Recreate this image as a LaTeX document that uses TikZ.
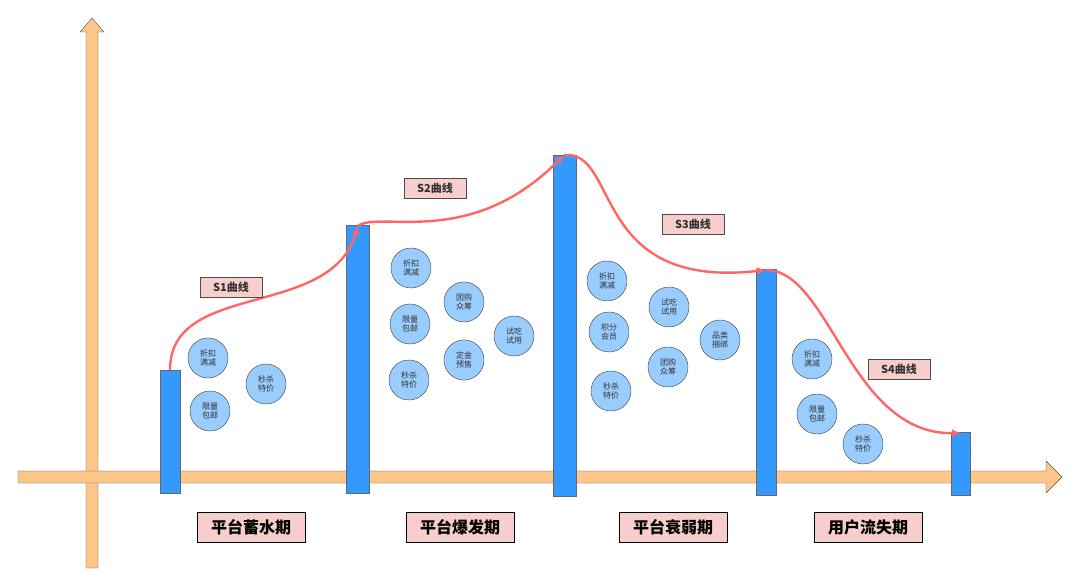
\documentclass[tikz,border=0pt]{standalone}
\usepackage{fontspec}
\newfontfamily\cjk{Noto Sans CJK SC}
\usetikzlibrary{arrows.meta,shapes.arrows}
\definecolor{axisfill}{HTML}{FFC68C}
\definecolor{barblue}{HTML}{3399FF}
\definecolor{dotblue}{HTML}{99CCFF}
\definecolor{curvered}{HTML}{FF6666}
\definecolor{tagpink}{HTML}{F8CECC}
\begin{document}
\begin{tikzpicture}[x=1pt,y=-1pt,
  bar/.style={draw=gray!80!black, fill=barblue, line width=0.8pt},
  tactic/.style={draw=black!75, fill=dotblue, circle, minimum size=40pt,
    inner sep=0pt, align=center, font=\cjk\fontsize{8}{9}\selectfont, text=black!80},
  curvetag/.style={draw=black!70, fill=tagpink, minimum width=62pt, minimum height=20pt,
    inner sep=1pt, font=\cjk\bfseries\fontsize{11}{12}\selectfont, text=black!80},
  phasetag/.style={draw=black, fill=tagpink, minimum width=108pt, minimum height=30pt,
    inner sep=1pt, font=\cjk\bfseries\fontsize{16}{18}\selectfont},
  curve/.style={draw=curvered, line width=2.4pt, -{Latex[length=9pt,width=8pt]}}
  ]
  \useasboundingbox (0,0) rectangle (1080,585);

  % axes
  \fill[axisfill, draw=black!70] (86,568) -- (86,32) -- (80,32) -- (92,18) -- (104,32)
    -- (98,32) -- (98,568) -- cycle;
  \fill[axisfill, draw=black!70] (18,471) -- (1046,471) -- (1046,461) -- (1062,477)
    -- (1046,493) -- (1046,483) -- (18,483) -- cycle;

  % bars
  \draw[bar] (160,370) rectangle (180,493);
  \draw[bar] (346,225) rectangle (369,493);
  \draw[bar] (553,155) rectangle (576,496);
  \draw[bar] (756,269) rectangle (776,495);
  \draw[bar] (951,432) rectangle (970,495);

  \coordinate (p1) at (170,370);
  \coordinate (p2) at (358,226);
  \coordinate (p3) at (564,155);
  \coordinate (p4) at (766,270);
  \coordinate (p5) at (961,433);

  % curves
  \draw[curve] (p1) .. controls (170,280) and (330,320) .. (p2);
  \draw[curve] (p2) .. controls (380,210) and (470,250) .. (p3);
  \draw[curve] (p3) .. controls (620,150) and (590,290) .. (p4);
  \draw[curve] (p4) .. controls (830,270) and (850,435) .. (p5);

  \node[curvetag] (s1) at (231,287) {S1曲线};
  \node[curvetag] (s2) at (435,188) {S2曲线};
  \node[curvetag] (s3) at (693,224) {S3曲线};
  \node[curvetag] (s4) at (899,369) {S4曲线};

  % tactics
  \node[tactic] (a1) at (208,358) {折扣\\满减};
  \node[tactic] (a2) at (210,411) {限量\\包邮};
  \node[tactic] (a3) at (266,384) {秒杀\\特价};

  \node[tactic] (b1) at (411,268) {折扣\\满减};
  \node[tactic] (b2) at (464,302) {团购\\众筹};
  \node[tactic] (b3) at (410,324) {限量\\包邮};
  \node[tactic] (b4) at (514,336) {试吃\\试用};
  \node[tactic] (b5) at (464,360) {定金\\预售};
  \node[tactic] (b6) at (409,380) {秒杀\\特价};

  \node[tactic] (c1) at (607,281) {折扣\\满减};
  \node[tactic] (c2) at (669,307) {试吃\\试用};
  \node[tactic] (c3) at (609,332) {积分\\会员};
  \node[tactic] (c4) at (720,340) {品类\\捆绑};
  \node[tactic] (c5) at (668,367) {团购\\众筹};
  \node[tactic] (c6) at (611,391) {秒杀\\特价};

  \node[tactic] (d1) at (812,359) {折扣\\满减};
  \node[tactic] (d2) at (817,414) {限量\\包邮};
  \node[tactic] (d3) at (863,444) {秒杀\\特价};

  % phases
  \node[phasetag] (ph1) at (251,527) {平台蓄水期};
  \node[phasetag] (ph2) at (460,527) {平台爆发期};
  \node[phasetag] (ph3) at (673,527) {平台衰弱期};
  \node[phasetag] (ph4) at (868,527) {用户流失期};
\end{tikzpicture}
\end{document}
